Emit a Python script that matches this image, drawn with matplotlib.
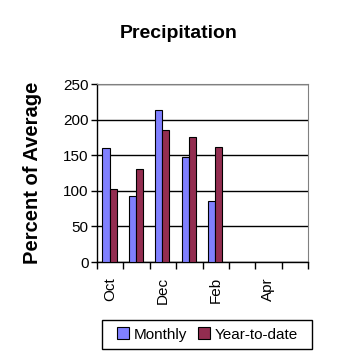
import matplotlib
matplotlib.use("Agg")
import matplotlib.pyplot as plt
from matplotlib.patches import Rectangle
import numpy as np

months = ["Oct", "Nov", "Dec", "Jan", "Feb", "Mar", "Apr", "May"]
monthly = [160, 92, 213, 147, 85]
ytd = [102, 130, 186, 176, 161]
yticks = [0, 50, 100, 150, 200, 250]

plt.rcParams['font.family'] = ['Liberation Sans', 'DejaVu Sans']

fig = plt.figure(figsize=(3.58, 3.58), dpi=100)
ax = fig.add_axes([97/358, 1-262/358, (308-97)/358, (262-84)/358])

w = 0.27
x = np.arange(len(monthly))
ax.bar(x - w/2 - 0.025, monthly, width=w, color='#8080ff', edgecolor='black', linewidth=0.8,
       label='Monthly', zorder=3)
ax.bar(x + w/2 - 0.025, ytd, width=w, color='#932d50', edgecolor='black', linewidth=0.8,
       label='Year-to-date', zorder=3)

ax.set_xlim(-0.5, len(months) - 0.5)
ax.set_ylim(0, 250)
ax.set_yticks(yticks)
ax.set_yticklabels([str(v) for v in yticks], fontsize=11)
ax.yaxis.grid(True, color='black', linewidth=1, zorder=0)
ax.set_axisbelow(True)

ax.set_xticks(np.arange(len(months) + 1) - 0.5)
ax.set_xticklabels([])
ax.set_xticks(np.arange(len(months)), minor=True)
ax.set_xticklabels([m if i % 2 == 0 else "" for i, m in enumerate(months)], minor=True,
                   rotation=90, fontsize=11)
ax.tick_params(axis='x', which='minor', length=0, pad=11)
ax.tick_params(axis='x', which='major', length=5, direction='out', width=1)
ax.tick_params(axis='y', length=4, direction='out', width=1, pad=2)

for s in ['top', 'right']:
    ax.spines[s].set_color('#808080')
for s in ['left', 'bottom']:
    ax.spines[s].set_color('black')
    ax.spines[s].set_linewidth(1)

fig.text(0.5, 1-33/358, "Precipitation", ha='center', va='center', fontsize=14, fontweight='bold')
fig.text(33/358, 1-173/358, "Percent of Average", ha='center', va='center', rotation=90,
         fontsize=14.5, fontweight='bold')

# legend frame
fig.add_artist(Rectangle((102/358, 1-349/358), 210/358, 29/358, transform=fig.transFigure,
                         facecolor='white', edgecolor='black', linewidth=1))
leg = fig.legend(loc='center left', bbox_to_anchor=(109/358, 1-334.5/358), ncol=2, frameon=False,
                 fontsize=11, handlelength=0.8, handleheight=0.8, handletextpad=0.3,
                 columnspacing=0.7, borderpad=0)

fig.savefig("out.png", dpi=100)
